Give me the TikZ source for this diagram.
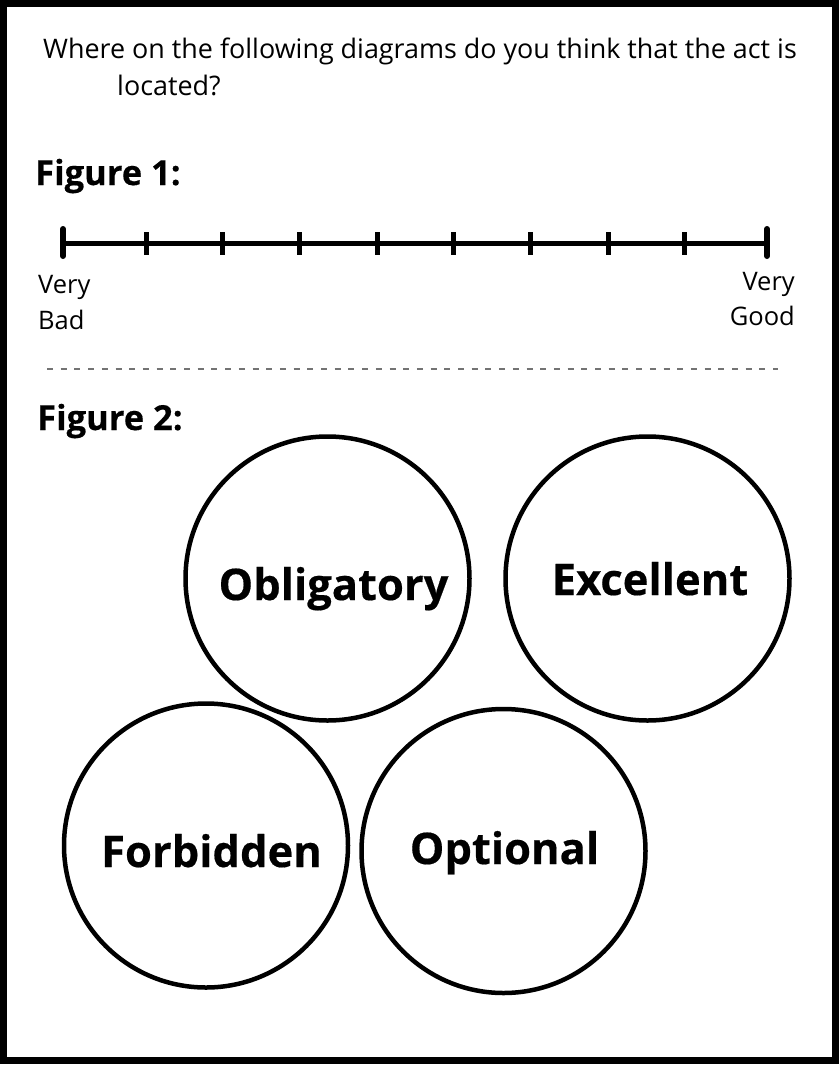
\documentclass[tikz,border=0pt]{standalone}
\usepackage{fontspec}
\setmainfont{Open Sans}[BoldFeatures={FakeBold=0.4}]
\begin{document}
\begin{tikzpicture}[x=1pt,y=-1pt,
  bodytext/.style={inner sep=0pt,font=\fontsize{26.9}{30}\selectfont},
  scaletext/.style={inner sep=0pt,font=\fontsize{25.5}{29}\selectfont},
  headtext/.style={inner sep=0pt,font=\fontsize{34.5}{40}\selectfont\bfseries},
  disctext/.style={inner sep=0pt,font=\fontsize{43.5}{50}\selectfont\bfseries},
  disc/.style={circle,draw=black,line width=4.5pt,minimum size=284pt,inner sep=0pt},
  tickmark/.style={line width=5pt},
  endmark/.style={line width=6pt,line cap=round},
  divider/.style={draw=black!55,line width=2pt,dash pattern=on 6pt off 7.7pt}
]
\useasboundingbox (0,0) rectangle (839,1066);
\fill[white] (0,0) rectangle (839,1066);
\draw[line width=7pt] (3.5,3.5) rectangle (835,1060);

% question
\node[bodytext,anchor=base west] (q1) at (43,58) {Where on the following diagrams do you think that the act is};
\node[bodytext,anchor=base west] (q2) at (117,95) {located?};

% figure 1
\node[headtext,anchor=base west] (f1) at (35,185) {Figure 1:};
\coordinate (L) at (63,243);
\coordinate (R) at (767,243);
\draw[line width=5pt] (L) -- (R);
\draw[endmark] (63,229) -- (63,256);
\draw[endmark] (767,229) -- (767,256);
\foreach \x in {146,222,299,377,453,530,608,684}{
  \draw[tickmark] (\x,232) -- (\x,255);
}
\node[scaletext,anchor=base west] (vb1) at (38,293) {Very};
\node[scaletext,anchor=base west] (vb2) at (38,329) {Bad};
\node[scaletext,anchor=base east] (vg1) at (795,290) {Very};
\node[scaletext,anchor=base east] (vg2) at (795,325) {Good};

\draw[divider] (47,369) -- (778,369);

% figure 2
\node[headtext,anchor=base west] (f2) at (37,430) {Figure 2:};
\node[disc] (obl) at (327.5,578.5) {};
\node[disc] (exc) at (647.5,578.5) {};
\node[disc] (forb) at (206,845.5) {};
\node[disc] (opt) at (503.5,851) {};
\node[disctext,anchor=base] (toblig) at (333.5,600) {Obligatory};
\node[disctext,anchor=base] (texc) at (650,595) {Excellent};
\node[disctext,anchor=base] (tforb) at (211.5,867) {Forbidden};
\node[disctext,anchor=base] (topt) at (504.5,864) {Optional};
\end{tikzpicture}
\end{document}
